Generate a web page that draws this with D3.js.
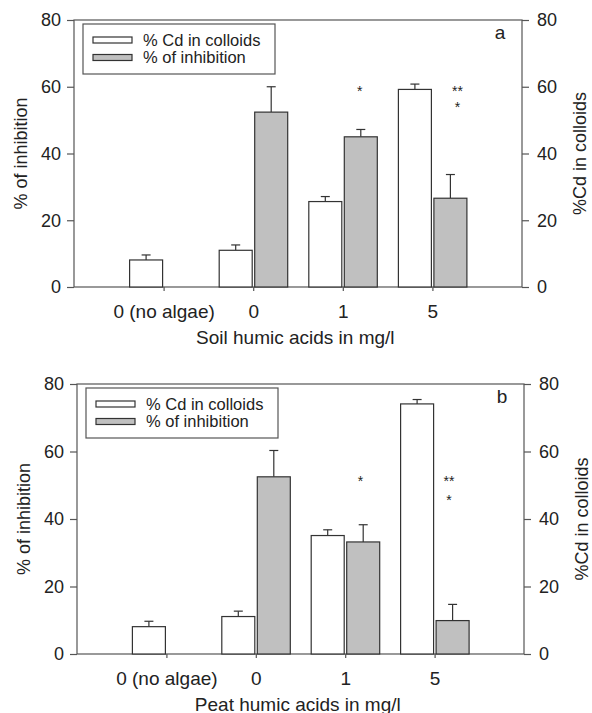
<!DOCTYPE html>
<html>
<head>
<meta charset="utf-8">
<script src="https://cdn.jsdelivr.net/npm/d3@7"></script>
<style>
  body { margin: 0; background: #fff; }
  svg { display: block; font-family: "Liberation Sans", Arial, sans-serif; }
</style>
</head>
<body>
<svg id="chart" width="592" height="713"></svg>
<script>
// categories and values
const categories = ["0 (no algae)", "0", "1", "5"];
const yTicks = [0, 20, 40, 60, 80];

const soilCd       = [8.1, 11.0, 25.6, 59.2];
const soilCdErr    = [1.5, 1.6, 1.5, 1.6];
const soilInhib    = [null, 52.4, 45.0, 26.6];
const soilInhibErr = [null, 7.6, 2.2, 7.1];
const soilStars    = [[2.19, 59.5, "*"], [3.28, 59.6, "**"], [3.28, 54.8, "*"]];

const peatCd       = [8.1, 11.1, 35.1, 74.1];
const peatCdErr    = [1.6, 1.6, 1.7, 1.3];
const peatInhib    = [null, 52.5, 33.2, 9.9];
const peatInhibErr = [null, 7.8, 5.1, 4.8];
const peatStars    = [[2.17, 52.2, "*"], [3.16, 52.2, "**"], [3.16, 46.4, "*"]];

const svg = d3.select("#chart");
const INK = "#333";
const AX = "#555";

function panel(opt) {
  const { left, right, top, bottom } = opt;
  const g = svg.append("g");

  // category index -> px ; original axis runs one step either side
  const x = d3.scaleLinear().domain([-1, 4]).range([left, right]);
  const y = d3.scaleLinear().domain([0, 80]).range([bottom, top]);
  const step = x(1) - x(0);

  // frame
  g.append("rect")
    .attr("x", left).attr("y", top)
    .attr("width", right - left).attr("height", bottom - top)
    .attr("fill", "none").attr("stroke", AX).attr("stroke-width", 1.2);

  const yl = g.append("g").attr("transform", `translate(${left},0)`)
    .call(d3.axisLeft(y).tickValues(yTicks).tickSize(7).tickPadding(6));
  const yr = g.append("g").attr("transform", `translate(${right},0)`)
    .call(d3.axisRight(y).tickValues(yTicks).tickSize(7).tickPadding(8));
  const xb = g.append("g").attr("transform", `translate(0,${bottom})`)
    .call(d3.axisBottom(x).tickValues(d3.range(categories.length))
      .tickFormat(i => categories[i]).tickSize(4).tickPadding(14));

  [yl, yr, xb].forEach(a => {
    a.select(".domain").remove();
    a.selectAll("line").attr("stroke", AX).attr("stroke-width", 1.2);
    a.selectAll("text").attr("fill", "#222").style("font-size", "18px");
  });
  xb.selectAll("text").style("font-size", "19px");

  const bw = 33;
  const series = [
    { vals: opt.cd, errs: opt.cdErr, x0: i => x(i) - bw - 1, fill: "#fff" },
    { vals: opt.inh, errs: opt.inhErr, x0: i => x(i) + 1.5, fill: "#c0c0c0" }
  ];

  series.forEach(s => {
    s.vals.forEach((v, i) => {
      if (v == null) return;
      const x0 = s.x0(i), cx = x0 + bw / 2;
      const e = s.errs[i];
      g.append("line")
        .attr("x1", cx).attr("x2", cx)
        .attr("y1", y(v)).attr("y2", y(v + e))
        .attr("stroke", INK).attr("stroke-width", 1.2);
      g.append("line")
        .attr("x1", cx - 4.5).attr("x2", cx + 4.5)
        .attr("y1", y(v + e)).attr("y2", y(v + e))
        .attr("stroke", INK).attr("stroke-width", 1.2);
      g.append("rect")
        .attr("x", x0).attr("y", y(v))
        .attr("width", bw).attr("height", y(0) - y(v))
        .attr("fill", s.fill).attr("stroke", INK).attr("stroke-width", 1.2);
    });
  });

  // significance stars
  opt.stars.forEach(([p, v, t]) => {
    g.append("text")
      .attr("x", x(p)).attr("y", y(v) + 8)
      .attr("text-anchor", "middle")
      .attr("fill", "#222").style("font-size", "14px")
      .text(t);
  });

  // panel letter
  g.append("text")
    .attr("x", right - 22).attr("y", top + 19)
    .attr("text-anchor", "middle").attr("fill", "#222")
    .style("font-size", "19px").text(opt.letter);

  // legend
  const lg = g.append("g").attr("transform", `translate(${left + 9},${top + 4})`);
  lg.append("rect").attr("width", 192).attr("height", 50)
    .attr("fill", "#fff").attr("stroke", AX).attr("stroke-width", 1.2);
  [["% Cd in colloids", "#fff"], ["% of inhibition", "#c0c0c0"]].forEach(([t, c], k) => {
    lg.append("rect")
      .attr("x", 10).attr("y", 13 + k * 17.5)
      .attr("width", 39).attr("height", 6)
      .attr("fill", c).attr("stroke", INK).attr("stroke-width", 1.2);
    lg.append("text")
      .attr("x", 60).attr("y", 21.5 + k * 17.5)
      .attr("fill", "#222").style("font-size", "16.5px").text(t);
  });

  // axis titles
  const my = (top + bottom) / 2;
  g.append("text")
    .attr("transform", `translate(${left - 47},${my}) rotate(-90)`)
    .attr("text-anchor", "middle").attr("fill", "#222")
    .style("font-size", "18px").text("% of inhibition");
  g.append("text")
    .attr("transform", `translate(${right + 64},${my}) rotate(-90)`)
    .attr("text-anchor", "middle").attr("fill", "#222")
    .style("font-size", "18px").text("%Cd in colloids");
  g.append("text")
    .attr("x", x(0) + step * 1.47).attr("y", bottom + 57)
    .attr("text-anchor", "middle").attr("fill", "#222")
    .style("font-size", "19px").text(opt.xTitle);
}

panel({
  left: 74, right: 522, top: 20, bottom: 287, letter: "a",
  cd: soilCd, cdErr: soilCdErr, inh: soilInhib, inhErr: soilInhibErr,
  stars: soilStars, xTitle: "Soil humic acids in mg/l"
});
panel({
  left: 77, right: 524, top: 384, bottom: 654, letter: "b",
  cd: peatCd, cdErr: peatCdErr, inh: peatInhib, inhErr: peatInhibErr,
  stars: peatStars, xTitle: "Peat humic acids in mg/l"
});
</script>
</body>
</html>
